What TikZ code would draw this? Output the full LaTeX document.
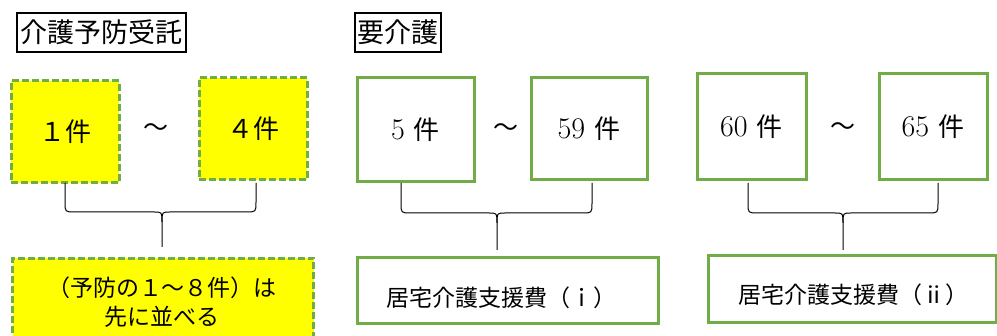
\documentclass[tikz,border=0pt]{standalone}
\usepackage{fontspec}
\newfontfamily\jp{Noto Sans CJK JP}
\definecolor{grn}{RGB}{112,173,71}
\definecolor{ylw}{RGB}{255,255,0}
\tikzset{
  ttl/.style={draw=black, line width=1.4pt, inner sep=0pt, font=\jp\fontsize{27}{30}\selectfont},
  gbox/.style={draw=grn, line width=3pt, inner sep=0pt, font=\fontsize{30}{34}\selectfont},
  ybox/.style={gbox, fill=ylw, dash pattern=on 7pt off 3pt},
  tld/.style={font=\jp\fontsize{25}{30}\selectfont, inner sep=0pt},
  btxt/.style={font=\jp\fontsize{23}{29}\selectfont, inner sep=0pt, align=center},
  brc/.style={draw=black, line width=1pt},
}
\newcommand{\kk}[1]{{\jp\fontsize{26}{30}\selectfont #1}}
\newcommand{\mybrace}[6]{% left, right, mid, top, hy, tip
  \draw[brc] (#1,#4) -- (#1,#5-10) .. controls (#1,#5) .. (#1+10,#5) -- (#3-8,#5) .. controls (#3,#5) .. (#3,#5+10) -- (#3,#6);
  \draw[brc] (#2,#4) -- (#2,#5-10) .. controls (#2,#5) .. (#2-10,#5) -- (#3+8,#5) .. controls (#3,#5) .. (#3,#5+10);
}
\begin{document}
\begin{tikzpicture}[x=1pt,y=-1pt]
\useasboundingbox (0,0) rectangle (997,336);
\clip (0,0) rectangle (997,336);
% titles
\node[ttl, minimum width=169pt, minimum height=39pt] (t1) at (101.5,32.5) {介護予防受託};
\node[ttl, minimum width=86pt, minimum height=39pt] (t2) at (398,32.5) {要介護};
% group 1
\node[ybox, minimum width=108pt, minimum height=102pt] (b1) at (65,132) {\kk{１件}};
\node[ybox, minimum width=108pt, minimum height=102pt] (b4) at (253,129) {\kk{４件}};
\node[tld] (w1) at (156,130) {〜};
\node[ybox, minimum width=301pt, minimum height=100pt, anchor=north west] (s1) at (11,257) {};
\node[btxt] (s1t) at (162,302.5) {（予防の１〜８件）は\\先に並べる};
\mybrace{65}{256}{162}{183}{212}{247}
% group 2
\node[gbox, minimum width=117pt, minimum height=104pt] (b5) at (415.5,130) {5 \kk{件}};
\node[gbox, minimum width=116pt, minimum height=102pt] (b59) at (589,129) {59 \kk{件}};
\node[tld] (w2) at (506,130) {〜};
\node[gbox, minimum width=301pt, minimum height=66pt] (s2) at (507.5,291) {};
\node[btxt] (s2t) at (501.5,298) {居宅介護支援費（ｉ）};
\mybrace{401}{592}{497}{183}{213}{250}
% group 3
\node[gbox, minimum width=109pt, minimum height=106pt] (b60) at (751.5,127) {60 \kk{件}};
\node[gbox, minimum width=108pt, minimum height=106pt] (b65) at (933,127) {65 \kk{件}};
\node[tld] (w3) at (843,129) {〜};
\node[gbox, minimum width=288pt, minimum height=67pt] (s3) at (852,289.5) {};
\node[btxt] (s3t) at (853.5,295) {居宅介護支援費（ⅱ）};
\mybrace{748}{938}{843}{183}{213}{250}
\end{tikzpicture}
\end{document}
